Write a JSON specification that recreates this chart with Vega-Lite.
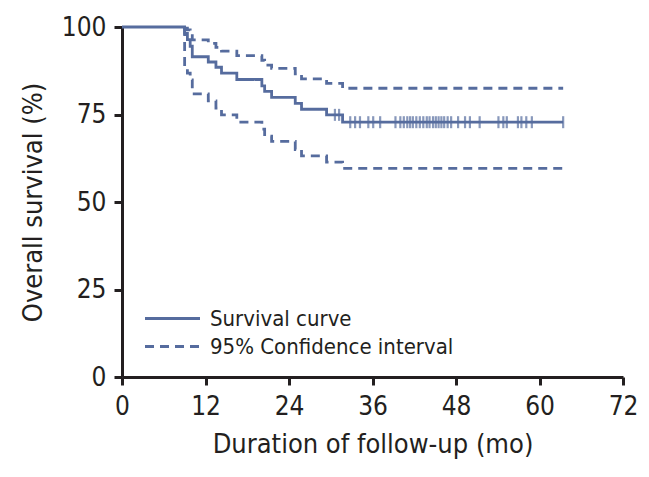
{
  "$schema": "https://vega.github.io/schema/vega-lite/v6.json",
  "width": 501,
  "height": 350,
  "autosize": {"type": "none"},
  "padding": {"left": 122, "top": 27, "right": 26, "bottom": 100},
  "background": "white",
  "config": {
    "view": {"stroke": null},
    "font": "DejaVu Sans Condensed, Roboto",
    "axis": {
      "grid": false,
      "domainColor": "#231f20",
      "domainWidth": 3,
      "tickColor": "#231f20",
      "tickWidth": 3,
      "tickSize": 8,
      "labelFont": "DejaVu Sans Condensed, Roboto",
      "labelFontSize": 26,
      "labelColor": "#231f20",
      "labelFlush": false,
      "titleFont": "DejaVu Sans Condensed, Roboto",
      "titleFontSize": 27,
      "titleFontWeight": "normal",
      "titleColor": "#231f20"
    }
  },
  "datasets": {
    "curves": [
      {"series": "surv", "type": "Survival curve", "time": 0, "value": 100},
      {"series": "surv", "type": "Survival curve", "time": 9.0, "value": 98.2},
      {"series": "surv", "type": "Survival curve", "time": 9.4, "value": 96.4},
      {"series": "surv", "type": "Survival curve", "time": 9.8, "value": 94.5},
      {"series": "surv", "type": "Survival curve", "time": 10.1, "value": 91.5},
      {"series": "surv", "type": "Survival curve", "time": 12.4, "value": 90.0},
      {"series": "surv", "type": "Survival curve", "time": 13.5, "value": 88.5},
      {"series": "surv", "type": "Survival curve", "time": 14.3, "value": 86.8},
      {"series": "surv", "type": "Survival curve", "time": 16.5, "value": 85.0},
      {"series": "surv", "type": "Survival curve", "time": 20.1, "value": 83.2},
      {"series": "surv", "type": "Survival curve", "time": 20.5, "value": 81.6},
      {"series": "surv", "type": "Survival curve", "time": 21.5, "value": 79.9},
      {"series": "surv", "type": "Survival curve", "time": 24.9, "value": 78.2},
      {"series": "surv", "type": "Survival curve", "time": 25.8, "value": 76.5},
      {"series": "surv", "type": "Survival curve", "time": 29.4, "value": 74.9},
      {"series": "surv", "type": "Survival curve", "time": 31.7, "value": 72.8},
      {"series": "surv", "type": "Survival curve", "time": 63.4, "value": 72.8},
      {"series": "upper", "type": "95% Confidence interval", "time": 9.0, "value": 100},
      {"series": "upper", "type": "95% Confidence interval", "time": 9.0, "value": 99.7},
      {"series": "upper", "type": "95% Confidence interval", "time": 9.4, "value": 99.2},
      {"series": "upper", "type": "95% Confidence interval", "time": 9.8, "value": 98.5},
      {"series": "upper", "type": "95% Confidence interval", "time": 10.1, "value": 96.3},
      {"series": "upper", "type": "95% Confidence interval", "time": 12.4, "value": 95.3},
      {"series": "upper", "type": "95% Confidence interval", "time": 13.5, "value": 94.2},
      {"series": "upper", "type": "95% Confidence interval", "time": 14.3, "value": 93.1},
      {"series": "upper", "type": "95% Confidence interval", "time": 16.5, "value": 91.8},
      {"series": "upper", "type": "95% Confidence interval", "time": 20.1, "value": 90.5},
      {"series": "upper", "type": "95% Confidence interval", "time": 20.5, "value": 89.1},
      {"series": "upper", "type": "95% Confidence interval", "time": 21.5, "value": 88.2},
      {"series": "upper", "type": "95% Confidence interval", "time": 24.9, "value": 86.6},
      {"series": "upper", "type": "95% Confidence interval", "time": 25.8, "value": 85.2},
      {"series": "upper", "type": "95% Confidence interval", "time": 29.4, "value": 83.9},
      {"series": "upper", "type": "95% Confidence interval", "time": 31.7, "value": 82.5},
      {"series": "upper", "type": "95% Confidence interval", "time": 63.4, "value": 82.5},
      {"series": "lower", "type": "95% Confidence interval", "time": 9.0, "value": 100},
      {"series": "lower", "type": "95% Confidence interval", "time": 9.0, "value": 88.5},
      {"series": "lower", "type": "95% Confidence interval", "time": 9.4, "value": 86.8},
      {"series": "lower", "type": "95% Confidence interval", "time": 9.8, "value": 84.9},
      {"series": "lower", "type": "95% Confidence interval", "time": 10.1, "value": 80.9},
      {"series": "lower", "type": "95% Confidence interval", "time": 12.4, "value": 78.9},
      {"series": "lower", "type": "95% Confidence interval", "time": 13.5, "value": 76.8},
      {"series": "lower", "type": "95% Confidence interval", "time": 14.3, "value": 74.9},
      {"series": "lower", "type": "95% Confidence interval", "time": 16.5, "value": 72.8},
      {"series": "lower", "type": "95% Confidence interval", "time": 20.1, "value": 70.8},
      {"series": "lower", "type": "95% Confidence interval", "time": 20.5, "value": 68.8},
      {"series": "lower", "type": "95% Confidence interval", "time": 21.5, "value": 67.3},
      {"series": "lower", "type": "95% Confidence interval", "time": 24.9, "value": 65.0},
      {"series": "lower", "type": "95% Confidence interval", "time": 25.8, "value": 63.2},
      {"series": "lower", "type": "95% Confidence interval", "time": 29.4, "value": 61.4},
      {"series": "lower", "type": "95% Confidence interval", "time": 31.7, "value": 59.6},
      {"series": "lower", "type": "95% Confidence interval", "time": 63.4, "value": 59.6}
    ],
    "censored": [
      {"time": 30.6, "value": 74.9}, {"time": 31.2, "value": 74.9},
      {"time": 32.8, "value": 72.8}, {"time": 33.5, "value": 72.8}, {"time": 34.2, "value": 72.8},
      {"time": 35.4, "value": 72.8}, {"time": 36.1, "value": 72.8}, {"time": 37.1, "value": 72.8},
      {"time": 39.3, "value": 72.8}, {"time": 40.0, "value": 72.8}, {"time": 40.5, "value": 72.8},
      {"time": 41.0, "value": 72.8}, {"time": 41.4, "value": 72.8}, {"time": 41.8, "value": 72.8},
      {"time": 42.3, "value": 72.8}, {"time": 42.8, "value": 72.8}, {"time": 43.3, "value": 72.8},
      {"time": 43.8, "value": 72.8}, {"time": 44.2, "value": 72.8}, {"time": 44.7, "value": 72.8},
      {"time": 45.1, "value": 72.8}, {"time": 45.5, "value": 72.8}, {"time": 45.9, "value": 72.8},
      {"time": 46.3, "value": 72.8}, {"time": 46.8, "value": 72.8}, {"time": 47.3, "value": 72.8},
      {"time": 48.3, "value": 72.8}, {"time": 49.3, "value": 72.8}, {"time": 50.0, "value": 72.8},
      {"time": 51.4, "value": 72.8}, {"time": 54.1, "value": 72.8}, {"time": 54.8, "value": 72.8},
      {"time": 55.3, "value": 72.8}, {"time": 56.9, "value": 72.8}, {"time": 57.4, "value": 72.8},
      {"time": 58.1, "value": 72.8}, {"time": 58.9, "value": 72.8}, {"time": 63.4, "value": 72.8}
    ]
  },
  "layer": [
    {
      "data": {"name": "curves"},
      "mark": {"type": "line", "interpolate": "step-after", "strokeWidth": 2.8, "color": "#566c9e"},
      "encoding": {
        "x": {
          "field": "time", "type": "quantitative",
          "scale": {"domain": [0, 72], "nice": false},
          "axis": {"values": [0, 12, 24, 36, 48, 60, 72], "title": "Duration of follow-up (mo)", "labelPadding": 8, "titlePadding": 12}
        },
        "y": {
          "field": "value", "type": "quantitative",
          "scale": {"domain": [0, 100], "nice": false},
          "axis": {"values": [0, 25, 50, 75, 100], "title": "Overall survival (%)", "labelPadding": 8, "titlePadding": 14}
        },
        "detail": {"field": "series"},
        "strokeDash": {
          "field": "type", "type": "nominal",
          "scale": {"domain": ["Survival curve", "95% Confidence interval"], "range": [[1, 0], [9, 6]]},
          "legend": {
            "title": null,
            "orient": "none",
            "legendX": 35,
            "legendY": 276,
            "symbolType": "M-2,0H2",
            "symbolSize": 756,
            "symbolStrokeColor": "#566c9e",
            "symbolFillColor": "transparent",
            "symbolStrokeWidth": 2.8,
            "labelFont": "DejaVu Sans Condensed, Roboto",
            "labelFontSize": 22,
            "labelColor": "#231f20",
            "labelLimit": 400,
            "labelOffset": 22,
            "rowPadding": 1
          }
        }
      }
    },
    {
      "data": {"name": "censored"},
      "mark": {"type": "tick", "orient": "vertical", "size": 12, "thickness": 2.2, "color": "#566c9e"},
      "encoding": {
        "x": {"field": "time", "type": "quantitative"},
        "y": {"field": "value", "type": "quantitative"}
      }
    }
  ]
}
